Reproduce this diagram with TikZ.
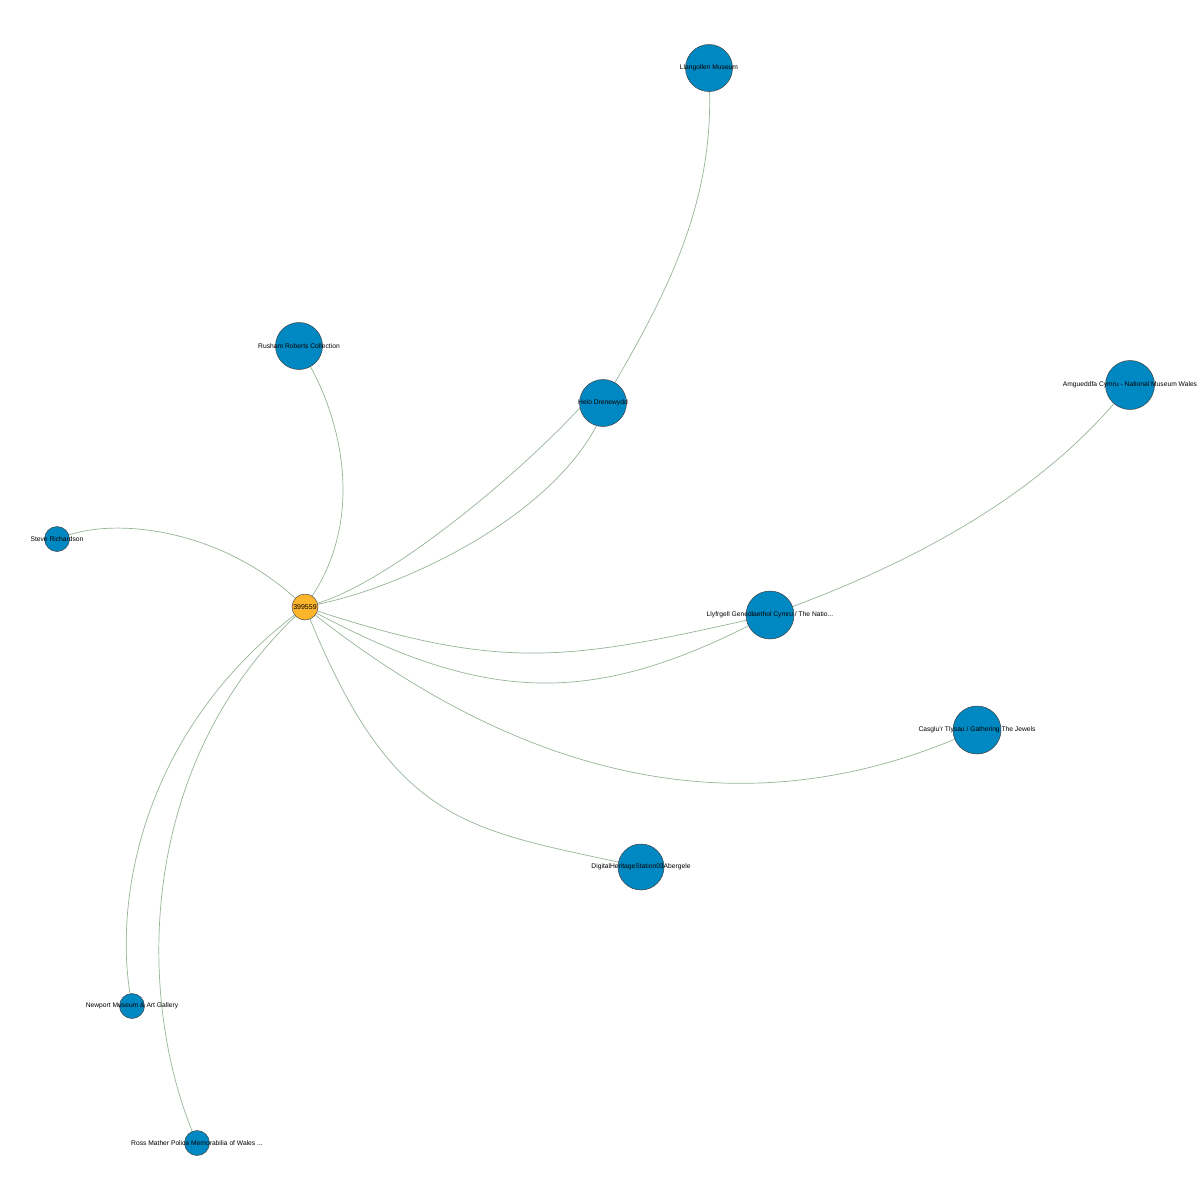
\documentclass[tikz,border=0pt]{standalone}
\usepackage{fontspec}
\setmainfont{Liberation Sans}
\usetikzlibrary{backgrounds}
\definecolor{museumcolorc}{HTML}{0088C2}
\definecolor{centrecolorc}{HTML}{FDB52B}
\definecolor{linkcolorc}{HTML}{98B498}
\colorlet{museumcolor}{museumcolorc}
\colorlet{centrecolor}{centrecolorc}
\colorlet{linkcolor}{linkcolorc}
\tikzstyle{museum} = [
    circle,
    draw=black!75,
    fill=museumcolor,
    line width=0.5pt,
    minimum size=47pt,
    inner sep=0pt
    ]
\tikzstyle{smallmuseum} = [museum, minimum size=25pt]
\tikzstyle{centre} = [
    circle,
    draw=black!70,
    fill=centrecolor,
    line width=0.5pt,
    minimum size=26pt,
    inner sep=0pt,
    font=\fontsize{7}{8}\selectfont
    ]
\tikzstyle{lbl} = [font=\fontsize{6.7}{7}\selectfont, text=black, inner sep=0pt]
\tikzstyle{link} = [draw=linkcolor, line width=0.7pt]

\begin{document}
\begin{tikzpicture}[x=1pt, y=-1pt]
\begin{scope}[on background layer]
\fill[white] (0,0) rectangle (1200,1200);
\end{scope}
\useasboundingbox (0,0) rectangle (1200,1200);

% centre
\node[centre] (obj) at (305,607) {399559};

% collections
\node[museum, label={[lbl]center:Llangollen Museum}] (llangollen) at (709,68) {};
\node[museum, label={[lbl]center:Rusham Roberts Collection}] (rusham) at (299,346) {};
\node[museum, label={[lbl]center:Helo Drenewydd}] (helo) at (603,403) {};
\node[museum, minimum size=49pt, label={[lbl]center:Amgueddfa Cymru - National Museum Wales}] (amgueddfa) at (1130,385) {};
\node[smallmuseum, label={[lbl]center:Steve Richardson}] (steve) at (57,539) {};
\node[museum, minimum size=48pt, label={[lbl]center:Llyfrgell Genedlaethol Cymru / The Natio...}] (llyfrgell) at (770,615) {};
\node[museum, minimum size=48pt, label={[lbl]center:Casglu'r Tlysau / Gathering The Jewels}] (casglu) at (977,730) {};
\node[museum, minimum size=46pt, label={[lbl]center:DigitalHeritageStation03Abergele}] (abergele) at (641,867) {};
\node[smallmuseum, label={[lbl]center:Newport Museum \& Art Gallery}] (newport) at (132,1006) {};
\node[smallmuseum, label={[lbl]center:Ross Mather Police Memorabilia of Wales ...}] (ross) at (197,1143) {};

\begin{scope}[on background layer]
\draw[link] (obj) .. controls (220,530) and (120,518) .. (steve);
\draw[link] (obj) .. controls (365,515) and (340,420) .. (rusham);
\draw[link] (obj) .. controls (391,581) and (519,474) .. (helo.192);
\draw[link] (obj) .. controls (405,586) and (547,519) .. (helo.254);
\draw[link] (helo) .. controls (673,283) and (712,198) .. (llangollen);
\draw[link] (obj) .. controls (501,671) and (569,660) .. (llyfrgell);
\draw[link] (obj) .. controls (484,702) and (589,706) .. (llyfrgell);
\draw[link] (llyfrgell) .. controls (920,559) and (1035,495) .. (amgueddfa);
\draw[link] (obj) .. controls (546,796) and (760,820) .. (casglu);
\draw[link] (obj) .. controls (393,821) and (466,829) .. (abergele);
\draw[link] (obj) .. controls (140,734) and (115,901) .. (newport);
\draw[link] (obj) .. controls (137,768) and (137,995) .. (ross);
\end{scope}
\end{tikzpicture}
\end{document}
